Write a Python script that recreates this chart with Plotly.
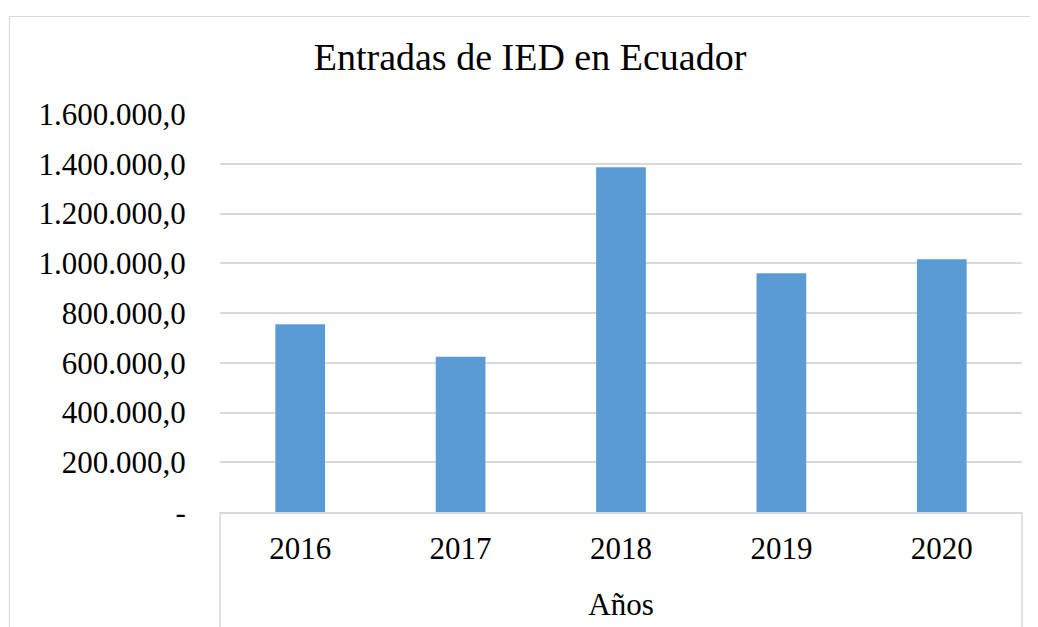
import plotly.graph_objects as go

# Data
years = ["2016", "2017", "2018", "2019", "2020"]
ied_values = [755000, 624000, 1386000, 960000, 1016000]
y_tick_values = [0, 200000, 400000, 600000, 800000, 1000000, 1200000, 1400000, 1600000]


def fmt(v):
    if v == 0:
        return "-"
    s = f"{v:,.1f}"  # 1,600,000.0
    return s.replace(",", "X").replace(".", ",").replace("X", ".")


y_tick_text = [fmt(v) for v in y_tick_values]

W, H = 1038, 627
OFF = 8  # page body margin
L, R, T, B = 220 - OFF, 1022 - OFF, 114 - OFF, 512 - OFF
pw, ph = R - L, B - T

FONT = "Liberation Serif"
GRID = "#d9d9d9"

fig = go.Figure(
    go.Bar(
        x=years,
        y=ied_values,
        marker=dict(color="#5B9BD5", line=dict(width=0)),
        hoverinfo="x+y",
    )
)


def px_x(x):
    return (x - OFF - L) / pw


def px_y(y):
    return (B - (y - OFF)) / ph


shapes = [
    # outer chart border
    dict(type="rect", xref="paper", yref="paper",
         x0=px_x(9.5), x1=px_x(1037.5), y0=px_y(680), y1=px_y(16.5),
         line=dict(color=GRID, width=1.2), fillcolor="rgba(0,0,0,0)", layer="below"),
    # vertical lines framing the category axis
    dict(type="line", xref="paper", yref="paper",
         x0=0, x1=0, y0=0, y1=px_y(680), line=dict(color=GRID, width=1.5)),
    dict(type="line", xref="paper", yref="paper",
         x0=1, x1=1, y0=0, y1=px_y(680), line=dict(color=GRID, width=1.5)),
]

fig.update_layout(
    width=W,
    height=H,
    margin=dict(l=L, r=W - R, t=T, b=H - B, pad=0),
    paper_bgcolor="white",
    plot_bgcolor="white",
    bargap=0.69,
    showlegend=False,
    font=dict(family=FONT, color="black"),
    title=dict(
        text="Entradas de IED en Ecuador",
        font=dict(family=FONT, size=38, color="black"),
        x=(530 - OFF) / W, xanchor="center", xref="container",
        y=1 - 49 / H, yanchor="middle", yref="container",
    ),
    xaxis=dict(
        type="category",
        showgrid=False,
        showline=True,
        linecolor=GRID,
        linewidth=1.5,
        ticks="outside",
        ticklen=8,
        tickcolor="rgba(0,0,0,0)",
        tickfont=dict(family=FONT, size=31, color="black"),
        title=dict(text="Años", font=dict(family=FONT, size=31, color="black"), standoff=28),
        fixedrange=True,
    ),
    yaxis=dict(
        range=[0, 1600000],
        tickmode="array",
        tickvals=y_tick_values,
        ticktext=y_tick_text,
        showgrid=True,
        gridcolor=GRID,
        gridwidth=1.5,
        zeroline=False,
        showline=False,
        ticks="outside",
        ticklen=27,
        tickcolor="rgba(0,0,0,0)",
        tickfont=dict(family=FONT, size=31, color="black"),
        fixedrange=True,
    ),
    shapes=shapes,
)

fig.write_html("out.html")
